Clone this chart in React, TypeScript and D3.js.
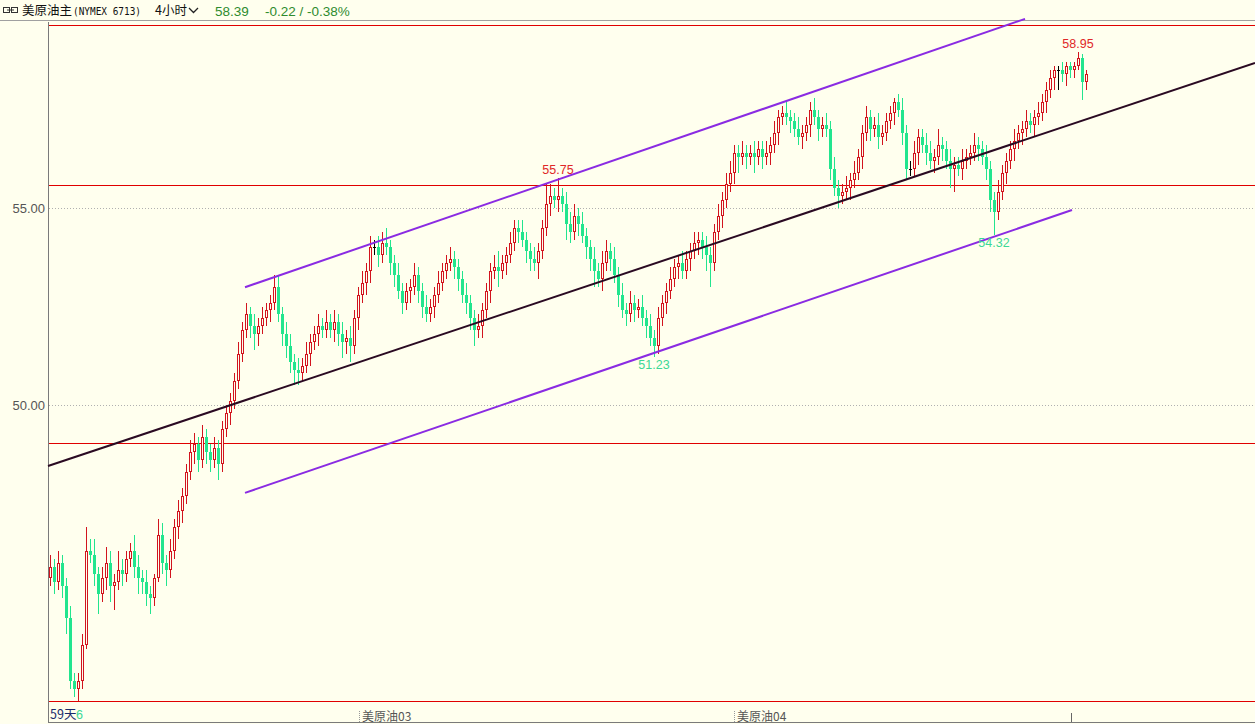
import React from "react";
import * as d3 from "d3";

const W = 1255;
const H = 724;

// 4-hour closes (open = previous close)
const firstOpen = 45.6;
const closes = [
  45.9, 45.5, 46.0, 45.4, 44.6, 43.0, 42.8, 43.0, 43.9, 46.3,
  46.2, 45.7, 45.2, 45.6, 46.0, 45.4, 45.5, 45.8, 45.7, 46.1,
  46.3, 45.9, 45.6, 45.5, 45.2, 45.1, 45.6, 46.7, 46.0, 45.8,
  46.3, 46.9, 47.3, 47.7, 48.3, 48.8, 49.0, 48.6, 49.2, 48.8,
  48.6, 48.9, 48.5, 49.4, 49.8, 50.1, 50.6, 51.3, 51.9, 52.3,
  52.0, 51.8, 52.0, 52.2, 52.4, 52.6, 53.0, 52.3, 51.8, 51.5,
  51.1, 50.9, 50.8, 51.0, 51.3, 51.6, 51.8, 52.0, 51.9, 52.1,
  51.9, 52.1, 51.8, 51.6, 51.7, 51.5, 52.2, 52.8, 53.1, 53.4,
  54.0, 54.0, 53.8, 54.1, 54.0, 53.6, 53.3, 52.9, 52.6, 52.9,
  53.0, 53.3, 52.9, 52.5, 52.3, 52.5, 52.8, 53.1, 53.4, 53.6,
  53.7, 53.5, 53.2, 52.8, 52.6, 52.2, 51.9, 52.0, 52.4, 52.9,
  53.4, 53.5, 53.4, 53.6, 53.8, 54.1, 54.5, 54.4, 54.2, 53.9,
  53.7, 53.6, 53.9, 54.5, 55.1, 55.3, 55.2, 55.3, 55.1, 54.6,
  54.4, 54.8, 54.6, 54.3, 54.0, 53.7, 53.4, 53.2, 53.6, 53.9,
  53.7, 53.3, 52.8, 52.4, 52.3, 52.6, 52.4, 52.5, 52.2, 52.0,
  51.7, 51.5, 52.2, 52.6, 52.9, 53.2, 53.5, 53.6, 53.4, 53.7,
  53.9, 54.1, 54.2, 54.0, 53.8, 53.6, 54.4, 54.8, 55.2, 55.6,
  55.9, 56.4, 56.3, 56.4, 56.3, 56.4, 56.3, 56.5, 56.3, 56.4,
  56.6, 56.9, 57.3, 57.4, 57.3, 57.2, 57.0, 56.8, 56.9, 57.1,
  57.5, 57.3, 57.0, 57.1, 57.0, 56.0, 55.5, 55.3, 55.4, 55.5,
  55.7, 55.9, 56.3, 56.9, 57.3, 57.0, 57.1, 56.8, 56.9, 57.2,
  57.4, 57.7, 57.5, 56.9, 56.0, 56.0, 56.4, 56.8, 56.6, 56.4,
  56.2, 56.3, 56.6, 56.5, 56.2, 56.0, 56.1, 56.0, 56.2, 56.3,
  56.4, 56.6, 56.5, 56.3, 56.0, 55.2, 54.9, 55.4, 55.9, 56.2,
  56.5, 56.7, 56.9, 57.0, 57.2, 57.1, 57.3, 57.4, 57.7, 58.0,
  58.3, 58.5, 58.5, 58.4, 58.6, 58.5, 58.6, 58.8, 58.2, 58.39,
];

// wick lengths above max(open, close) and below min(open, close)
const upperWick = [
  0.3, 0.2, 0.3, 0.2, 0.2, 0.3, 0.2, 0.2, 0.3, 0.6,
  0.3, 0.4, 0.2, 0.3, 0.4, 0.3, 0.2, 0.5, 0.3, 0.2,
  0.2, 0.4, 0.3, 0.2, 0.3, 0.2, 0.1, 0.4, 0.3, 0.2,
  0.3, 0.2, 0.3, 0.2, 0.2, 0.3, 0.3, 0.2, 0.3, 0.2,
  0.2, 0.3, 0.2, 0.2, 0.2, 0.2, 0.2, 0.3, 0.2, 0.3,
  0.2, 0.3, 0.2, 0.3, 0.2, 0.2, 0.3, 0.3, 0.2, 0.3,
  0.3, 0.2, 0.3, 0.2, 0.3, 0.2, 0.2, 0.3, 0.2, 0.3,
  0.2, 0.3, 0.2, 0.3, 0.2, 0.3, 0.2, 0.2, 0.3, 0.2,
  0.3, 0.2, 0.3, 0.3, 0.4, 0.2, 0.2, 0.3, 0.2, 0.2,
  0.2, 0.3, 0.2, 0.2, 0.3, 0.2, 0.2, 0.3, 0.2, 0.2,
  0.3, 0.2, 0.2, 0.2, 0.3, 0.2, 0.2, 0.3, 0.2, 0.2,
  0.2, 0.3, 0.4, 0.2, 0.2, 0.3, 0.2, 0.2, 0.3, 0.2,
  0.2, 0.3, 0.2, 0.2, 0.5, 0.3, 0.2, 0.45, 0.2, 0.3,
  0.3, 0.3, 0.2, 0.3, 0.2, 0.2, 0.3, 0.2, 0.3, 0.3,
  0.2, 0.3, 0.2, 0.3, 0.2, 0.3, 0.2, 0.2, 0.3, 0.2,
  0.3, 0.2, 0.3, 0.2, 0.2, 0.3, 0.2, 0.2, 0.3, 0.2,
  0.2, 0.3, 0.2, 0.2, 0.3, 0.2, 0.2, 0.3, 0.2, 0.3,
  0.3, 0.2, 0.2, 0.3, 0.2, 0.2, 0.3, 0.2, 0.2, 0.3,
  0.2, 0.3, 0.2, 0.2, 0.3, 0.2, 0.2, 0.3, 0.2, 0.2,
  0.2, 0.3, 0.2, 0.2, 0.3, 0.2, 0.3, 0.2, 0.2, 0.3,
  0.2, 0.3, 0.2, 0.2, 0.3, 0.2, 0.2, 0.3, 0.2, 0.2,
  0.2, 0.1, 0.2, 0.3, 0.2, 0.2, 0.3, 0.2, 0.2, 0.3,
  0.3, 0.2, 0.4, 0.2, 0.2, 0.3, 0.2, 0.2, 0.3, 0.2,
  0.2, 0.3, 0.2, 0.2, 0.3, 0.2, 0.2, 0.3, 0.2, 0.2,
  0.2, 0.3, 0.2, 0.2, 0.3, 0.2, 0.2, 0.3, 0.2, 0.2,
  0.2, 0.1, 0.1, 0.2, 0.1, 0.1, 0.1, 0.15, 0.1, 0.1,
];
const lowerWick = [
  0.2, 0.3, 0.2, 0.3, 0.4, 0.2, 0.2, 0.3, 0.2, 0.1,
  0.2, 0.3, 0.5, 0.2, 0.3, 0.4, 0.6, 0.2, 0.3, 0.2,
  0.2, 0.3, 0.4, 0.3, 0.3, 0.4, 0.2, 0.1, 0.3, 0.4,
  0.2, 0.2, 0.3, 0.3, 0.2, 0.2, 0.3, 0.3, 0.2, 0.3,
  0.3, 0.2, 0.4, 0.2, 0.2, 0.3, 0.2, 0.2, 0.2, 0.2,
  0.3, 0.4, 0.3, 0.2, 0.2, 0.3, 0.2, 0.2, 0.3, 0.3,
  0.3, 0.4, 0.3, 0.2, 0.2, 0.3, 0.2, 0.3, 0.2, 0.2,
  0.2, 0.3, 0.3, 0.4, 0.3, 0.4, 0.2, 0.3, 0.2, 0.3,
  0.3, 0.2, 0.3, 0.2, 0.2, 0.3, 0.3, 0.2, 0.3, 0.2,
  0.3, 0.2, 0.3, 0.3, 0.2, 0.2, 0.3, 0.2, 0.2, 0.2,
  0.2, 0.3, 0.3, 0.2, 0.3, 0.3, 0.4, 0.2, 0.3, 0.2,
  0.3, 0.2, 0.4, 0.2, 0.3, 0.2, 0.2, 0.3, 0.2, 0.3,
  0.3, 0.2, 0.4, 0.2, 0.2, 0.3, 0.2, 0.3, 0.2, 0.4,
  0.3, 0.2, 0.3, 0.2, 0.3, 0.3, 0.4, 0.2, 0.3, 0.2,
  0.3, 0.2, 0.3, 0.2, 0.3, 0.2, 0.3, 0.2, 0.2, 0.3,
  0.2, 0.27, 0.2, 0.2, 0.3, 0.2, 0.2, 0.3, 0.2, 0.2,
  0.3, 0.2, 0.3, 0.3, 0.4, 0.6, 0.2, 0.2, 0.3, 0.2,
  0.2, 0.3, 0.4, 0.2, 0.3, 0.2, 0.4, 0.2, 0.3, 0.2,
  0.3, 0.2, 0.3, 0.2, 0.2, 0.3, 0.2, 0.2, 0.3, 0.2,
  0.3, 0.2, 0.3, 0.2, 0.2, 0.3, 0.2, 0.3, 0.2, 0.2,
  0.3, 0.2, 0.2, 0.3, 0.2, 0.3, 0.2, 0.3, 0.2, 0.2,
  0.2, 0.3, 0.2, 0.3, 0.3, 0.2, 0.2, 0.3, 0.2, 0.3,
  0.2, 0.3, 0.2, 0.3, 0.2, 0.5, 0.6, 0.2, 0.3, 0.2,
  0.2, 0.2, 0.3, 0.2, 0.3, 0.3, 0.58, 0.2, 0.2, 0.3,
  0.2, 0.3, 0.2, 0.3, 0.2, 0.2, 0.3, 0.2, 0.2, 0.3,
  0.2, 0.3, 0.5, 0.2, 0.3, 0.2, 0.2, 0.1, 0.45, 0.2,
];

// horizontal support / resistance levels
const levels = [59.64, 55.58, 49.04, 42.49];
const gridValues = [55, 50];
const gridLabels = ["55.00", "50.00"];

// trend lines: [startIndex, startPrice, endIndex, endPrice]
const channelUpper = [48.75, 52.99, 243.75, 59.8];
const channelLower = [48.75, 47.77, 255.5, 54.95];
const midLine = [-0.5, 48.45, 301.25, 58.68];

// high/low annotations
const annotIndex = [127, 151, 236, 257];
const annotText = ["55.75", "51.23", "54.32", "58.95"];
const annotIsHigh = [true, false, false, true];

// month separators
const monthIndex = [77.25, 171];
const monthLabels = ["03", "04"];

const BG = "#FFFFEE";
const RED = "#D2141E";
const GREEN = "#22E58E";
const PURPLE = "#8A2BE2";

export default function App() {
  const x = d3.scaleLinear().domain([0, closes.length - 1]).range([50, 1086]);
  const y = d3.scaleLinear().domain([50, 55]).range([405, 208]);
  const L = 48;

  const candles = closes.map((c, i) => {
    const o = i === 0 ? firstOpen : closes[i - 1];
    const hi = Math.max(o, c) + upperWick[i];
    const lo = Math.min(o, c) - lowerWick[i];
    return { i, o, c, hi, lo };
  });

  const line = (seg: number[]) => ({
    x1: x(seg[0]),
    y1: y(seg[1]),
    x2: x(seg[2]),
    y2: y(seg[3]),
  });

  const cjk = "'Noto Sans CJK SC', 'Liberation Sans', sans-serif";
  const sans = "'Liberation Sans', Arial, sans-serif";

  return (
    <svg
      width={W}
      height={H}
      style={{ position: "absolute", left: 0, top: 0, background: BG }}
    >
      <rect x={0} y={0} width={W} height={H} fill={BG} />
      {/* header */}
      <g>
        <rect x={3.5} y={7.5} width={6} height={5} fill="none" stroke="#333" />
        <rect x={11.5} y={7.5} width={6} height={5} fill="none" stroke="#333" />
        <line x1={7} x2={14} y1={10} y2={10} stroke="#333" />
        <text x={22} y={15} fontFamily={cjk} fontSize={12.5} fill="#111">
          美原油主
        </text>
        <text
          x={73}
          y={15}
          fontFamily="'DejaVu Sans Mono', monospace"
          fontSize={10.5}
          textLength={68}
          lengthAdjust="spacingAndGlyphs"
          fill="#111"
        >
          (NYMEX 6713)
        </text>
        <text x={155} y={15} fontFamily={cjk} fontSize={12.5} fill="#111">
          4小时
        </text>
        <path d="M189,8 L193.5,12.5 L198,8" fill="none" stroke="#222" strokeWidth={1.3} />
        <text x={215} y={16} fontFamily={sans} fontSize={13.5} fill="#2E8B2E">
          58.39
        </text>
        <text x={265} y={16} fontFamily={sans} fontSize={13.5} fill="#2E8B2E">
          -0.22 / -0.38%
        </text>
        <line x1={0} x2={W} y1={20.5} y2={20.5} stroke="#A0A0A0" />
      </g>

      {/* axis frame */}
      <line x1={L + 0.5} x2={L + 0.5} y1={22} y2={723} stroke="#7A7A7A" />
      <line x1={L} x2={W} y1={722.5} y2={722.5} stroke="#7A7A7A" />

      {/* grid */}
      {gridValues.map((v, k) => (
        <g key={"g" + k}>
          <line
            x1={L + 1}
            x2={W}
            y1={Math.round(y(v)) + 0.5}
            y2={Math.round(y(v)) + 0.5}
            stroke="#B0B0B0"
            strokeDasharray="1,2"
          />
          <text
            x={45}
            y={y(v) + 5}
            textAnchor="end"
            fontFamily={sans}
            fontSize={13}
            fill="#555"
          >
            {gridLabels[k]}
          </text>
        </g>
      ))}

      {/* horizontal levels */}
      {levels.map((v, k) => (
        <rect
          key={"l" + k}
          x={L + 1}
          y={Math.round(y(v))}
          width={W - L - 1}
          height={1}
          fill="#E00000"
          shapeRendering="crispEdges"
        />
      ))}

      {/* candles */}
      {candles.map((d) => {
        const cx = Math.round(x(d.i));
        const up = d.c > d.o + 0.001;
        const doji = Math.abs(d.c - d.o) < 0.001;
        const top = Math.round(y(Math.max(d.o, d.c)));
        const bot = Math.round(y(Math.min(d.o, d.c)));
        const yh = Math.round(y(d.hi));
        const yl = Math.round(y(d.lo));
        if (doji) {
          return (
            <g key={d.i}>
              <line x1={cx + 0.5} x2={cx + 0.5} y1={yh} y2={yl} stroke="#000" />
              <line x1={cx - 1} x2={cx + 2} y1={top + 0.5} y2={top + 0.5} stroke="#000" />
            </g>
          );
        }
        if (up) {
          const h = Math.max(bot - top, 2);
          return (
            <g key={d.i}>
              <line x1={cx + 0.5} x2={cx + 0.5} y1={yh} y2={top} stroke={RED} />
              <line x1={cx + 0.5} x2={cx + 0.5} y1={top + h} y2={yl} stroke={RED} />
              <rect
                x={cx - 0.5}
                y={top + 0.5}
                width={2}
                height={h - 1}
                fill={BG}
                stroke={RED}
              />
            </g>
          );
        }
        return (
          <g key={d.i}>
            <line x1={cx + 0.5} x2={cx + 0.5} y1={yh} y2={yl} stroke={GREEN} />
            <rect x={cx - 1} y={top} width={3} height={Math.max(bot - top, 1)} fill={GREEN} />
          </g>
        );
      })}

      {/* trend lines */}
      <line {...line(channelUpper)} stroke={PURPLE} strokeWidth={2} />
      <line {...line(channelLower)} stroke={PURPLE} strokeWidth={2} />
      <line {...line(midLine)} stroke="#2A0A22" strokeWidth={2} />

      {/* annotations */}
      {annotIndex.map((idx, k) => {
        const d = candles[idx];
        const v = annotIsHigh[k] ? d.hi : d.lo;
        return (
          <text
            key={"a" + k}
            x={x(idx)}
            y={annotIsHigh[k] ? y(v) - 4.5 : y(v) + 12}
            textAnchor="middle"
            fontFamily={sans}
            fontSize={12.5}
            fill={annotIsHigh[k] ? "#E02828" : "#3CD896"}
          >
            {annotText[k]}
          </text>
        );
      })}

      {/* bottom axis */}
      {monthIndex.map((idx, k) => {
        const mx = Math.round(x(idx));
        return (
          <g key={"m" + k}>
            <line
              x1={mx + 0.5}
              x2={mx + 0.5}
              y1={711}
              y2={722}
              stroke="#999"
              strokeDasharray="1,1"
            />
            <text x={mx + 3} y={721} fontFamily={cjk} fontSize={12} fill="#555">
              美原油{monthLabels[k]}
            </text>
          </g>
        );
      })}
      <line x1={1071.5} x2={1071.5} y1={713} y2={722} stroke="#666" />
      <text x={50} y={719} fontFamily={cjk} fontSize={12.5} fill="#1A2A6A">
        59天
      </text>
      <text x={76} y={719} fontFamily={sans} fontSize={12.5} fill="#3CD896">
        6
      </text>
    </svg>
  );
}
